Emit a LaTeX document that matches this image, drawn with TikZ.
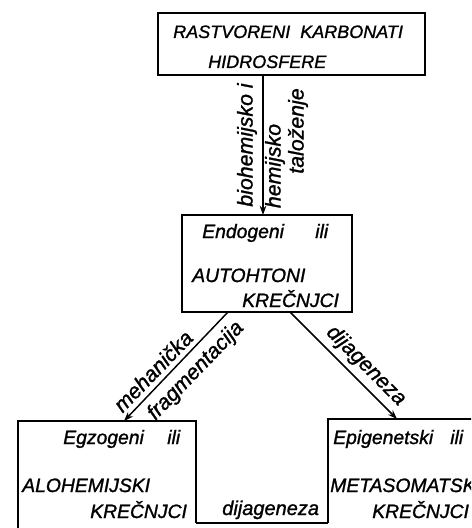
\documentclass[tikz,border=0pt]{standalone}
\usepackage{fontspec}
\newfontfamily\labfont[FakeBold=1.2]{Liberation Sans}
\usetikzlibrary{arrows.meta}
\tikzset{
  boxline/.style={draw=black, line width=1.1pt},
  conn/.style={draw=black, line width=1.1pt},
  arr/.style={conn, -{Stealth[length=7pt,width=5pt]}},
  lbl/.style={inner sep=0pt, anchor=base west, font=\labfont\itshape\fontsize{14.5}{16}\selectfont},
  lbltop/.style={lbl, font=\labfont\itshape\fontsize{13.5}{15}\selectfont},
  rlbl/.style={inner sep=0pt, anchor=center, font=\labfont\itshape\fontsize{16}{18}\selectfont},
}
\begin{document}
\begin{tikzpicture}[x=0.75pt,y=-0.75pt]
\useasboundingbox (0,0) rectangle (471,528);
\clip (0,0) rectangle (471,528);
\fill[white] (0,0) rectangle (471,528);
% boxes
\draw[boxline] (158,13) rectangle (425,75);
\draw[boxline] (182,215) rectangle (352,312);
\draw[boxline] (18,540) -- (18,421) -- (196,421) -- (196,523);
\draw[boxline] (328,523) -- (328,419) -- (480,419);
% anchor coordinates
\coordinate (topb) at (263,75);
\coordinate (midt) at (263,215);
\coordinate (midbl) at (228,312);
\coordinate (midbr) at (290,312);
\coordinate (leftt) at (124,421);
\coordinate (rightt) at (397,419);
\coordinate (leftr) at (196,523);
\coordinate (rightl) at (328,523);
% connectors
\draw[arr] (topb) -- (midt);
\draw[arr] (midbl) -- (leftt);
\draw[arr] (midbr) -- (rightt);
\draw[conn] (leftr) -- (rightl);
% top box text
\node[lbltop] (t1) at (173,38) {RASTVORENI\ \ KARBONATI};
\node[lbltop] (t2) at (208,68) {HIDROSFERE};
% vertical labels
\node[rlbl, rotate=90] (v1) at (247,145) {biohemijsko i};
\node[rlbl, rotate=90] (v2) at (275,166) {hemijsko};
\node[rlbl, rotate=90] (v3) at (298,131) {taloženje};
% middle box
\node[lbl] (m1) at (202,238) {Endogeni};
\node[lbl] (m2) at (315,238) {ili};
\node[lbl] (m3) at (192,282) {AUTOHTONI};
\node[lbl] (m4) at (242,307) {KREČNJCI};
% diagonal labels
\node[rlbl, rotate=46] (d1) at (153,371) {mehanička};
\node[rlbl, rotate=46] (d2) at (196,371) {fragmentacija};
\node[rlbl, rotate=-45] (d3) at (366,366) {dijageneza};
% left box
\node[lbl] (l1) at (63,444) {Egzogeni};
\node[lbl] (l2) at (167,444) {ili};
\node[lbl] (l3) at (22,492) {ALOHEMIJSKI};
\node[lbl] (l4) at (90,518) {KREČNJCI};
% right box
\node[lbl] (r1) at (333,444) {Epigenetski};
\node[lbl] (r2) at (450,444) {ili};
\node[lbl] (r3) at (330,492) {METASOMATSKI};
\node[lbl] (r4) at (372,518) {KREČNJCI};
% bottom label
\node[lbl, font=\labfont\itshape\fontsize{15}{17}\selectfont] (b1) at (222,515) {dijageneza};
\end{tikzpicture}
\end{document}
